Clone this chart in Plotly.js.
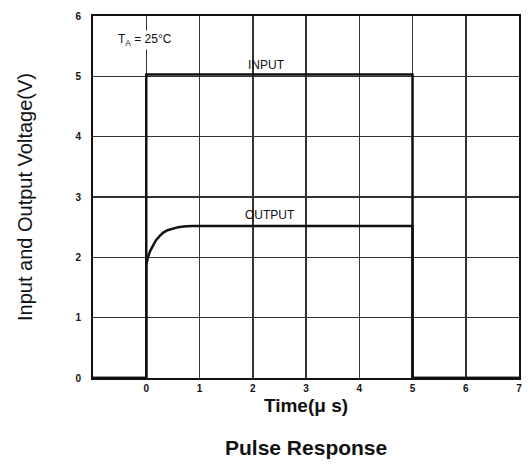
<!DOCTYPE html>
<html><head><meta charset="utf-8">
<script src="https://cdn.plot.ly/plotly-3.0.1.min.js"></script>
<style>html,body{margin:0;padding:0;background:#fff}#c{width:528px;height:464px}</style>
</head><body><div id="c"></div>
<script>
var inputX = [-1, 0, 0, 5, 5, 7];
var inputY = [0, 0, 5.03, 5.03, 0, 0];
var outputX = [-1, 0, 0, 0.03, 0.07, 0.12, 0.18, 0.25, 0.32, 0.4, 0.5, 0.6, 0.7, 0.85, 5, 5, 7];
var outputY = [0, 0, 1.87, 2.0, 2.1, 2.19, 2.28, 2.35, 2.41, 2.45, 2.48, 2.5, 2.51, 2.52, 2.52, 0, 0];
var xTicks = [0, 1, 2, 3, 4, 5, 6, 7];
var yTicks = [0, 1, 2, 3, 4, 5, 6];
var font = "Liberation Sans, Arial, sans-serif";
var data = [
  {x: inputX, y: inputY, mode: 'lines', line: {color: '#111', width: 2.5}, hoverinfo: 'skip'},
  {x: outputX, y: outputY, mode: 'lines', line: {color: '#111', width: 2.5}, hoverinfo: 'skip'}
];
var layout = {
  width: 528, height: 464,
  margin: {l: 93, r: 9, t: 16, b: 86},
  paper_bgcolor: '#fff', plot_bgcolor: '#fff',
  showlegend: false,
  xaxis: {range: [-1, 7], tickvals: xTicks, ticktext: xTicks.map(String),
    showgrid: true, gridcolor: '#333', gridwidth: 1.5, zeroline: false,
    showline: true, linecolor: '#111', linewidth: 2, mirror: true, ticks: '',
    tickfont: {family: font, size: 10, color: '#111', weight: 'bold'},
    title: {text: 'Time(\u03bc s)', font: {family: font, size: 19, color: '#111', weight: 'bold'}, standoff: 6}},
  yaxis: {range: [0, 6], tickvals: yTicks, ticktext: yTicks.map(String),
    showgrid: true, gridcolor: '#333', gridwidth: 1.5, zeroline: false,
    showline: true, linecolor: '#111', linewidth: 2, mirror: true, ticks: '',
    ticklabelstandoff: 8,
    tickfont: {family: font, size: 10, color: '#111', weight: 'bold'},
    title: {text: 'Input and Output Voltage(V)', font: {family: font, size: 20, color: '#111'}, standoff: 37}},
  annotations: [
    {x: -0.02, y: 5.6, xref: 'x', yref: 'y', text: 'T<sub>A</sub> = 25\u00b0C', showarrow: false, font: {family: font, size: 12, color: '#111'}, bgcolor: '#fff'},
    {x: 2.25, y: 5.19, xref: 'x', yref: 'y', text: 'INPUT', showarrow: false, font: {family: font, size: 12, color: '#111'}},
    {x: 2.33, y: 2.71, xref: 'x', yref: 'y', text: 'OUTPUT', showarrow: false, font: {family: font, size: 12, color: '#111'}},
    {x: 0.5, y: 0, xref: 'paper', yref: 'paper', yshift: -69, yanchor: 'middle', text: 'Pulse Response', showarrow: false, font: {family: font, size: 21, color: '#111', weight: 'bold'}}
  ]
};
Plotly.newPlot('c', data, layout, {displayModeBar: false, staticPlot: true});
</script></body></html>
